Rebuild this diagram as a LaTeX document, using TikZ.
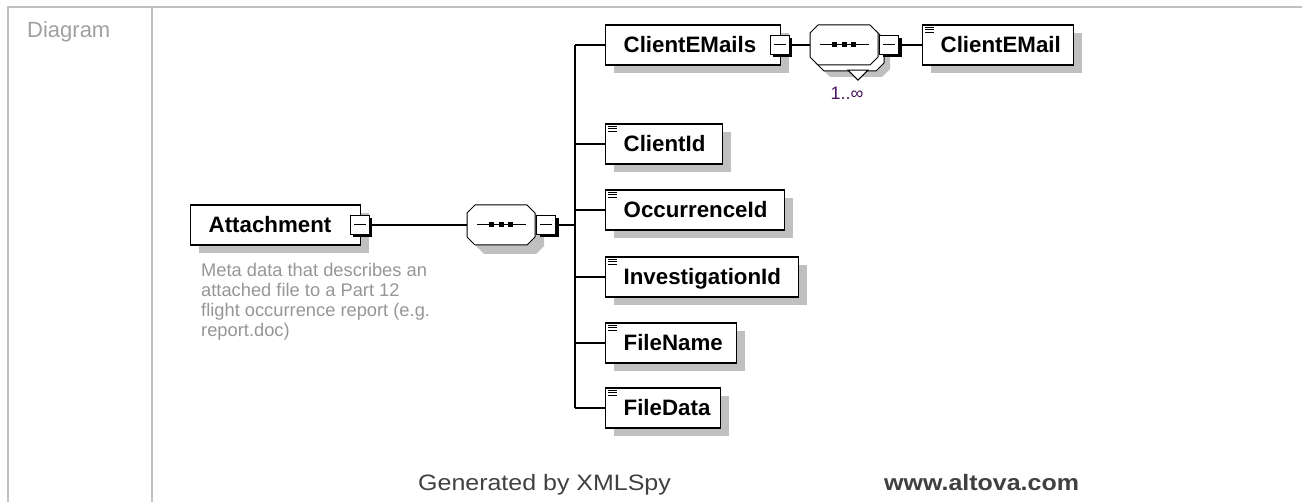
\documentclass[tikz,border=0pt]{standalone}
\usepackage{fontspec}
\setmainfont{Liberation Sans}
\newfontfamily\footfont[FakeStretch=1.12]{Liberation Sans}
\usetikzlibrary{shadows}
\definecolor{framegray}{RGB}{192,192,192}
\definecolor{shadowgray}{RGB}{192,192,192}
\definecolor{labelgray}{RGB}{160,160,160}
\definecolor{notegray}{RGB}{150,150,150}
\definecolor{footgray}{RGB}{64,64,64}
\definecolor{cardpurple}{RGB}{70,20,90}
\setlength{\parindent}{0pt}
\tikzset{
  frame/.style={draw=framegray, line width=2pt},
  elem/.style={draw, line width=1.3pt, fill=white, anchor=west, minimum height=40pt,
    inner xsep=0pt, inner ysep=0pt, text width=#1, align=left, text height=15.5pt, text depth=0pt,
    font=\bfseries\fontsize{22.3}{26}\selectfont, execute at begin node={\hspace*{18pt}},
    drop shadow={shadow xshift=8pt, shadow yshift=-8pt, fill=shadowgray, draw=none, opacity=1}},
  collapse/.style={draw, fill=white, line width=1pt, minimum size=19pt, inner sep=0pt,
    drop shadow={shadow xshift=3pt, shadow yshift=-3pt, fill=black, draw=none, opacity=1}},
  seq/.style={rectangle, minimum width=68pt, minimum height=40pt, inner sep=0pt},
  pics/octagon/.style={code={
    \path[#1] (-34,-12) -- (-26,-20) -- (26,-20) -- (34,-12) -- (34,12) -- (26,20) -- (-26,20) -- (-34,12) -- cycle;}},
  conn/.style={line width=1.3pt},
  icon/.style={line width=0.9pt},
  note/.style={font=\fontsize{18.3}{19.8}\selectfont, text=notegray, align=left, inner sep=0pt},
  card/.style={font=\fontsize{18}{20}\selectfont, text=cardpurple, inner sep=0pt},
  footer/.style={font=\footfont\fontsize{22.3}{26}\selectfont, text=footgray, inner sep=0pt, anchor=base west}
}
\begin{document}
\begin{tikzpicture}[x=1pt,y=-1pt]
  \useasboundingbox (0,0) rectangle (1302,502);
  \draw[frame] (8,502) -- (8,7) -- (1302,7);
  \draw[frame] (152,7) -- (152,502);
  \node[font=\fontsize{22}{26}\selectfont, text=labelgray, anchor=base west, inner sep=0pt] (celllabel) at (27,38) {Diagram};

  \node[elem=170pt] (att) at (190,225) {Attachment};
  \node[collapse] (attminus) at ([xshift=-1.5pt]att.east) {};
  \node[note, anchor=north west] (attnote) at (201,263.5) {Meta data that describes an\\attached file to a Part 12\\flight occurrence report (e.g.\\report.doc)};

  \node[seq] (seq1) at (501,225) {};
  \pic at ([shift={(9pt,-9pt)}]seq1.center) {octagon={fill=shadowgray}};
  \pic at (seq1.center) {octagon={draw, fill=white, line width=1pt}};
  \node[collapse, anchor=west] (seq1minus) at ([xshift=1pt]seq1.east) {};
  \coordinate (bus) at (575,225);

  \node[elem=175pt] (cems) at (605,45) {ClientEMails};
  \node[collapse] (cemsminus) at ([xshift=-1.5pt]cems.east) {};
  \node[seq] (seq2) at (844,45) {};
  \pic at ([shift={(12pt,-12pt)}]seq2.center) {octagon={fill=shadowgray}};
  \pic at ([shift={(6pt,-6pt)}]seq2.center) {octagon={draw, fill=white, line width=1pt}};
  \pic at (seq2.center) {octagon={draw, fill=white, line width=1pt}};
  \draw[line width=1pt, fill=white] ([shift={(4pt,-5pt)}]seq2.south) -- ++(20pt,0pt) -- ++(-10pt,-10pt) -- cycle;
  \node[collapse, anchor=west] (seq2minus) at ([xshift=1pt]seq2.east) {};
  \node[card] (seq2card) at ([shift={(3pt,-28pt)}]seq2.south) {1..∞};
  \node[elem=151pt] (cemail) at (922,45) {ClientEMail};

  \node[elem=117pt] (cid) at (605,144) {ClientId};
  \node[elem=179pt] (occ) at (605,210) {OccurrenceId};
  \node[elem=193pt] (inv) at (605,277) {InvestigationId};
  \node[elem=131pt] (fname) at (605,343) {FileName};
  \node[elem=115pt] (fdata) at (605,408) {FileData};

  \foreach \m in {attminus,seq1minus,cemsminus,seq2minus}
    \draw[line width=1pt] ([xshift=4pt]\m.west) -- ([xshift=-4pt]\m.east);
  \foreach \s in {seq1,seq2} {
    \draw[line width=1pt] ([xshift=10pt]\s.west) -- ([xshift=-9pt]\s.east);
    \fill ([shift={(-12pt,-2.5pt)}]\s.center) rectangle +(5pt,5pt);
    \fill ([shift={(-2.5pt,-2.5pt)}]\s.center) rectangle +(5pt,5pt);
    \fill ([shift={(7pt,-2.5pt)}]\s.center) rectangle +(5pt,5pt);
  }
  \foreach \e in {cemail,cid,occ,inv,fname,fdata}
    \draw[icon] ([shift={(3pt,-3pt)}]\e.north west) -- +(9pt,0pt)
                ([shift={(3pt,-5.5pt)}]\e.north west) -- +(9pt,0pt)
                ([shift={(3pt,-8pt)}]\e.north west) -- +(9pt,0pt);

  \draw[conn] (attminus.east) -- (seq1.west);
  \draw[conn] (seq1minus.east) -- (bus);
  \draw[conn] (bus |- cems.west) -- (bus |- fdata.west);
  \draw[conn] (bus |- cems.west) -- (cems.west);
  \draw[conn] (bus |- cid.west) -- (cid.west);
  \draw[conn] (bus |- occ.west) -- (occ.west);
  \draw[conn] (bus |- inv.west) -- (inv.west);
  \draw[conn] (bus |- fname.west) -- (fname.west);
  \draw[conn] (bus |- fdata.west) -- (fdata.west);
  \draw[conn] (cemsminus.east) -- (seq2.west);
  \draw[conn] (seq2minus.east) -- (cemail.west);

  \node[footer] (gentext) at (418,491) {Generated by XMLSpy};
  \node[footer, font=\footfont\bfseries\fontsize{22.3}{26}\selectfont] (urltext) at (884,491) {www.altova.com};
\end{tikzpicture}
\end{document}
